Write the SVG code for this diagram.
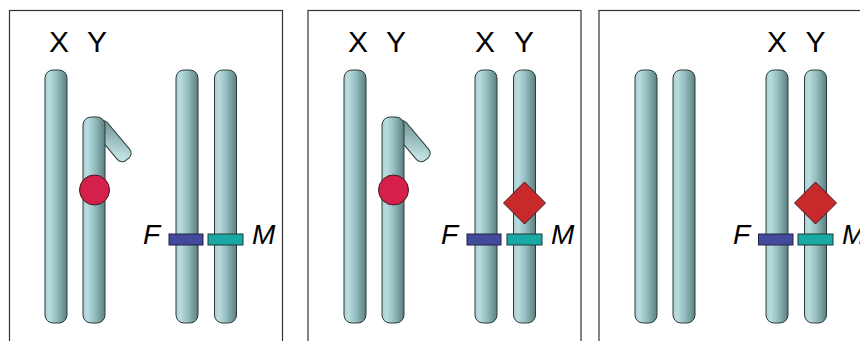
<svg xmlns="http://www.w3.org/2000/svg" width="860" height="341" viewBox="0 0 860 341">
  <defs>
    <!-- shading across a chromosome body: light left, dark right -->
    <linearGradient id="chromGrad" x1="0" y1="0" x2="1" y2="0">
      <stop offset="0" stop-color="#a9cfd2"/>
      <stop offset="0.2" stop-color="#b9dcdf"/>
      <stop offset="0.55" stop-color="#93bcbe"/>
      <stop offset="1" stop-color="#5b7f80"/>
    </linearGradient>
    <!-- shading along the bent arm of the Y chromosome -->
    <linearGradient id="armGrad" x1="0" y1="0" x2="1" y2="0.4">
      <stop offset="0" stop-color="#6c8f90"/>
      <stop offset="1" stop-color="#c0e0e2"/>
    </linearGradient>
    <style>
      .box { fill: #ffffff; stroke: #333333; stroke-width: 1.2; }
      .chrom { fill: url(#chromGrad); stroke: #2e3a3a; stroke-width: 1; }
      .arm { fill: url(#armGrad); stroke: #2e3a3a; stroke-width: 1; }
      .lbl { font-family: "Liberation Sans", Arial, sans-serif; font-size: 30px; fill: #000000; text-anchor: middle; }
      .gene { font-family: "Liberation Sans", Arial, sans-serif; font-size: 28px; font-style: italic; fill: #000000; }
      .barF { fill: #434a9c; stroke: #222244; stroke-width: 1; }
      .barM { fill: #1aa8a4; stroke: #1e3a3a; stroke-width: 1; }
      .dot { fill: #d4204a; stroke: #3a1a1a; stroke-width: 1; }
      .diam { fill: #c8292a; stroke: #3a1a1a; stroke-width: 1; }
    </style>
  </defs>

  <!-- Panel 1: XY pair with circle marker, and F/M pair -->
  <g id="panel1">
    <rect class="box" x="9.5" y="10.5" width="273" height="345"/>
    <text class="lbl" x="59" y="52">X</text>
    <text class="lbl" x="97" y="52">Y</text>
    <g id="p1-chrX"><rect class="chrom" x="45" y="70" width="22" height="253" rx="8"/></g>
    <g id="p1-chrY">
      <rect class="arm" x="-4" y="0" width="47" height="16" rx="6" transform="translate(106,121) rotate(50)"/>
      <rect class="chrom" x="83" y="117" width="22" height="206" rx="8"/>
      <circle class="dot" cx="94.5" cy="190" r="15"/>
    </g>
    <g id="p1-chrF"><rect class="chrom" x="176" y="70" width="22" height="253" rx="8"/></g>
    <g id="p1-chrM"><rect class="chrom" x="214.5" y="70" width="22" height="253" rx="8"/></g>
    <g id="p1-geneF">
      <rect class="barF" x="169" y="234" width="34" height="11"/>
      <text class="gene" x="143" y="244">F</text>
    </g>
    <g id="p1-geneM">
      <rect class="barM" x="208" y="234" width="35" height="11"/>
      <text class="gene" x="252" y="244">M</text>
    </g>
  </g>

  <!-- Panel 2: XY pair with circle marker, and XY pair with diamond marker -->
  <g id="panel2" transform="translate(299,0)">
    <rect class="box" x="9" y="10.5" width="273" height="345"/>
    <text class="lbl" x="59" y="52">X</text>
    <text class="lbl" x="97" y="52">Y</text>
    <text class="lbl" x="186" y="52">X</text>
    <text class="lbl" x="225" y="52">Y</text>
    <g id="p2-chrX"><rect class="chrom" x="45" y="70" width="22" height="253" rx="8"/></g>
    <g id="p2-chrY">
      <rect class="arm" x="-4" y="0" width="47" height="16" rx="6" transform="translate(106,121) rotate(50)"/>
      <rect class="chrom" x="83" y="117" width="22" height="206" rx="8"/>
      <circle class="dot" cx="94.5" cy="190" r="15"/>
    </g>
    <g id="p2-chrF"><rect class="chrom" x="176" y="70" width="22" height="253" rx="8"/></g>
    <g id="p2-chrM"><rect class="chrom" x="214.5" y="70" width="22" height="253" rx="8"/></g>
    <g id="p2-geneF">
      <rect class="barF" x="168" y="234" width="34" height="11"/>
      <text class="gene" x="142" y="244">F</text>
    </g>
    <g id="p2-geneM">
      <rect class="barM" x="208" y="234" width="35" height="11"/>
      <text class="gene" x="252" y="244">M</text>
    </g>
    <g id="p2-diamond"><polygon class="diam" points="225.5,182 246.5,203 225.5,224 204.5,203"/></g>
  </g>

  <!-- Panel 3: unlabelled pair, and XY pair with diamond marker -->
  <g id="panel3" transform="translate(590,0)">
    <rect class="box" x="9" y="10.5" width="300" height="345"/>
    <text class="lbl" x="187" y="52">X</text>
    <text class="lbl" x="225.5" y="52">Y</text>
    <g id="p3-chrA"><rect class="chrom" x="45" y="70" width="22" height="253" rx="8"/></g>
    <g id="p3-chrB"><rect class="chrom" x="83" y="70" width="22" height="253" rx="8"/></g>
    <g id="p3-chrF"><rect class="chrom" x="176" y="70" width="22" height="253" rx="8"/></g>
    <g id="p3-chrM"><rect class="chrom" x="214.5" y="70" width="22" height="253" rx="8"/></g>
    <g id="p3-geneF">
      <rect class="barF" x="168.5" y="234" width="34.5" height="11"/>
      <text class="gene" x="143" y="244">F</text>
    </g>
    <g id="p3-geneM">
      <rect class="barM" x="208" y="234" width="35" height="11"/>
      <text class="gene" x="252" y="244">M</text>
    </g>
    <g id="p3-diamond"><polygon class="diam" points="225.5,182 246.5,203 225.5,224 204.5,203"/></g>
  </g>
</svg>
